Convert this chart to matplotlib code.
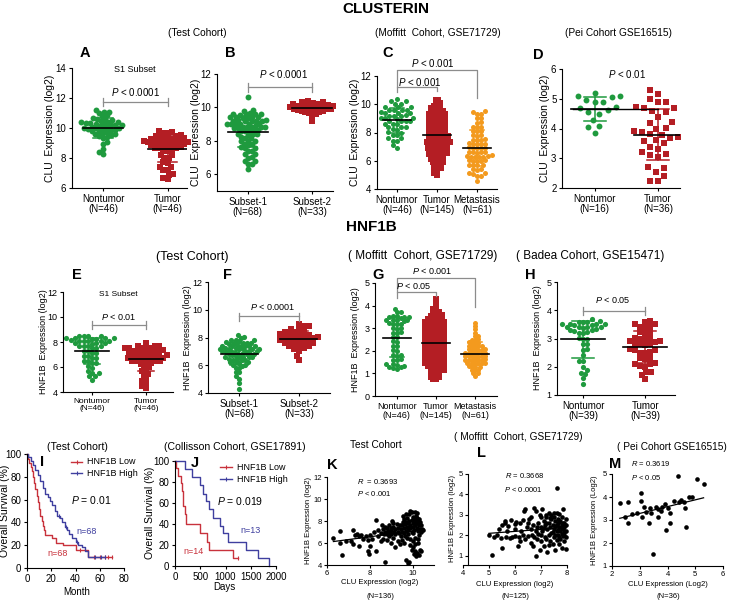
import numpy as np
import matplotlib
matplotlib.use('Agg')
import matplotlib.pyplot as plt
from matplotlib.lines import Line2D

plt.rcParams['font.family'] = 'Liberation Sans'
plt.rcParams['mathtext.fontset'] = 'custom'
plt.rcParams['mathtext.it'] = 'Liberation Sans:italic'
plt.rcParams['mathtext.rm'] = 'Liberation Sans'
plt.rcParams['axes.linewidth'] = 0.8

W, H = 729, 602
GREEN = '#1f9a3e'
RED = '#b41e24'
ORANGE = '#f39a1e'
KM_RED = '#c8323c'
KM_BLUE = '#3f3f9f'
GRAY = '#8c8c8c'

# ---------------- CLU dot plots ----------------
A_NONTUMOR = [11.2, 11.05, 11.0, 11.1, 10.85, 10.8, 10.6, 10.55, 10.6, 10.65,
              10.4, 10.35, 10.45, 10.4, 10.3, 10.4, 10.35, 10.2, 10.15, 10.25, 10.2, 10.1, 10.2,
              10.0, 9.95, 10.0, 10.05, 9.9, 10.0, 9.95, 9.8, 9.75, 9.85, 9.8,
              9.6, 9.55, 9.65, 9.6, 9.4, 9.35, 9.45, 9.05, 8.95, 8.6, 8.4, 8.3]
A_TUMOR = [9.8, 9.68, 9.72, 9.7, 9.5, 9.52, 9.48, 9.5, 9.3, 9.32, 9.28, 9.3, 9.3,
           9.1, 9.12, 9.08, 9.1, 9.1, 9.14, 9.06, 8.9, 8.92, 8.88, 8.9, 8.9,
           8.7, 8.72, 8.68, 8.7, 8.5, 8.52, 8.48, 8.2, 8.22, 8.0, 7.98, 7.7, 7.72,
           7.4, 7.42, 7.2, 7.18, 6.9, 6.92, 6.65, 6.62]
B_SUB1 = [10.6, 9.8, 9.82, 9.6, 9.62, 9.58, 9.6, 9.64, 9.56, 9.4, 9.42, 9.38, 9.4, 9.44, 9.36,
          9.2, 9.22, 9.18, 9.2, 9.24, 9.16, 9.2, 9.0, 9.02, 8.98, 9.0, 9.04, 8.96, 9.0,
          8.8, 8.82, 8.78, 8.8, 8.84, 8.76, 8.8, 8.6, 8.62, 8.58, 8.6, 8.64,
          8.4, 8.42, 8.38, 8.4, 8.2, 8.22, 8.18, 8.0, 8.02, 7.98, 7.8, 7.82, 7.78,
          7.6, 7.62, 7.58, 7.4, 7.42, 7.2, 7.22, 7.0, 7.02, 6.8, 6.82, 6.6, 6.62, 6.3]
B_SUB2 = [10.4, 10.3, 10.32, 10.28, 10.2, 10.22, 10.18, 10.2, 10.1, 10.12, 10.08, 10.1, 10.1,
          10.0, 10.02, 9.98, 10.0, 10.0, 9.9, 9.92, 9.88, 9.9, 9.9, 9.8, 9.82, 9.78, 9.8,
          9.7, 9.72, 9.68, 9.6, 9.5, 9.2]
C_NONTUMOR = [10.4, 10.2, 10.22, 10.0, 10.02, 9.8, 9.82, 9.78, 9.6, 9.62, 9.58, 9.6,
              9.4, 9.42, 9.38, 9.4, 9.2, 9.22, 9.18, 9.2, 9.0, 9.02, 8.98, 9.0,
              8.8, 8.82, 8.78, 8.8, 8.6, 8.62, 8.58, 8.4, 8.42, 8.38, 8.2, 8.22,
              8.0, 8.02, 7.8, 7.82, 7.6, 7.62, 7.4, 7.42, 7.1, 6.9]
C_TUMOR = [10.3, 10.28, 10.1, 10.12, 9.9, 9.92, 9.88, 9.7, 9.72, 9.68, 9.7,
           9.5, 9.52, 9.48, 9.5, 9.5,
           9.3, 9.32, 9.28, 9.3, 9.34, 9.26, 9.3, 9.1, 9.12, 9.08, 9.1, 9.14, 9.06, 9.1,
           8.9, 8.92, 8.88, 8.9, 8.94, 8.86, 8.9, 8.7, 8.72, 8.68, 8.7, 8.74, 8.66, 8.7,
           8.5, 8.52, 8.48, 8.5, 8.54, 8.46, 8.5, 8.3, 8.32, 8.28, 8.3, 8.34, 8.26, 8.3,
           8.1, 8.12, 8.08, 8.1, 8.14, 8.06, 8.1, 7.9, 7.92, 7.88, 7.9, 7.94, 7.86, 7.9,
           7.7, 7.72, 7.68, 7.7, 7.74, 7.66, 7.7, 7.7, 7.5, 7.52, 7.48, 7.5, 7.54, 7.46, 7.5, 7.5,
           7.3, 7.32, 7.28, 7.3, 7.34, 7.26, 7.3, 7.3, 7.1, 7.12, 7.08, 7.1, 7.14, 7.06, 7.1,
           6.9, 6.92, 6.88, 6.9, 6.94, 6.86, 6.9, 6.7, 6.72, 6.68, 6.7, 6.74, 6.66,
           6.5, 6.52, 6.48, 6.5, 6.54, 6.46, 6.3, 6.32, 6.28, 6.3, 6.34,
           6.1, 6.12, 6.08, 6.1, 5.9, 5.92, 5.88, 5.9, 5.7, 5.72, 5.68,
           5.5, 5.52, 5.48, 5.3, 5.32, 5.1, 5.0]
C_METASTASIS = [9.5, 9.48, 9.3, 9.32, 9.0, 9.02, 8.7, 8.72, 8.4, 8.42, 8.38, 8.1, 8.12, 8.08,
                7.8, 7.82, 7.78, 7.5, 7.52, 7.48, 7.5, 7.2, 7.22, 7.18, 7.2, 7.24,
                6.9, 6.92, 6.88, 6.9, 6.94, 6.6, 6.62, 6.58, 6.6, 6.64,
                6.3, 6.32, 6.28, 6.3, 6.34, 6.26, 6.4, 6.0, 6.02, 5.98, 6.0, 6.04,
                5.7, 5.72, 5.68, 5.7, 5.4, 5.42, 5.38, 5.1, 5.12, 5.08, 4.9, 4.92, 4.6]
D_NONTUMOR = [5.18, 5.1, 5.08, 5.05, 4.95, 4.9, 4.88, 4.72, 4.7, 4.62, 4.55, 4.5, 4.3, 4.1, 4.05, 3.85]
D_TUMOR = [5.28, 5.15, 5.0, 4.9, 4.88, 4.72, 4.7, 4.68, 4.58, 4.55, 4.4, 4.22, 4.18, 4.02, 4.0,
           3.9, 3.88, 3.82, 3.78, 3.7, 3.68, 3.6, 3.58, 3.5, 3.38, 3.32, 3.2, 3.15, 3.1, 3.05,
           2.72, 2.68, 2.55, 2.4, 2.25, 2.22]

# ---------------- HNF1B dot plots ----------------
E_NONTUMOR = [8.5, 8.52, 8.48, 8.5, 8.3, 8.32, 8.28, 8.3, 8.34, 8.26, 8.1, 8.12, 8.08, 8.1, 8.14, 8.06,
              7.9, 7.92, 7.88, 7.9, 7.7, 7.72, 7.68, 7.7, 7.5, 7.52, 7.3, 7.32, 7.1, 7.12,
              6.9, 6.92, 6.7, 6.72, 6.5, 6.52, 6.3, 6.32, 6.1, 5.9, 5.7, 5.5, 5.52, 5.25, 5.27, 5.0]
E_TUMOR = [7.9, 7.7, 7.72, 7.68, 7.5, 7.52, 7.48, 7.5, 7.54, 7.3, 7.32, 7.28, 7.3, 7.34,
           7.1, 7.12, 7.08, 7.1, 6.9, 6.92, 6.88, 6.9, 6.94, 6.7, 6.72, 6.68, 6.7, 6.74,
           6.5, 6.52, 6.48, 6.5, 6.3, 6.32, 6.28, 6.0, 6.02, 5.7, 5.72, 5.4, 5.42, 5.1, 4.9, 4.7, 4.5, 4.3]
F_SUB1 = [8.2, 8.0, 8.02, 7.8, 7.82, 7.78, 7.8, 7.6, 7.62, 7.58, 7.6, 7.64, 7.56,
          7.4, 7.42, 7.38, 7.4, 7.44, 7.36, 7.4, 7.2, 7.22, 7.18, 7.2, 7.24, 7.16, 7.2, 7.2,
          7.0, 7.02, 6.98, 7.0, 7.04, 6.96, 7.0, 6.8, 6.82, 6.78, 6.8, 6.84, 6.76, 6.8,
          6.6, 6.62, 6.58, 6.6, 6.64, 6.56, 6.4, 6.42, 6.38, 6.4, 6.44,
          6.2, 6.22, 6.18, 6.2, 6.0, 6.02, 5.98, 5.8, 5.82, 5.5, 5.52, 5.2, 5.0, 4.7, 4.3]
F_SUB2 = [9.0, 8.8, 8.82, 8.6, 8.62, 8.4, 8.42, 8.38, 8.2, 8.22, 8.18, 8.2,
          8.0, 8.02, 7.98, 8.0, 8.04, 7.8, 7.82, 7.78, 7.8, 7.6, 7.62, 7.58, 7.6,
          7.4, 7.42, 7.38, 7.2, 7.22, 7.0, 6.7, 6.4]
G_NONTUMOR = [3.85, 3.7, 3.72, 3.5, 3.52, 3.48, 3.5, 3.54, 3.46, 3.35, 3.37, 3.33, 3.35, 3.36,
              3.2, 3.22, 3.18, 3.2, 3.0, 3.02, 2.98, 2.8, 2.82, 2.78, 2.6, 2.62, 2.4, 2.42,
              2.2, 2.22, 2.0, 2.02, 1.8, 1.82, 1.78, 1.6, 1.62, 1.58, 1.4, 1.42, 1.38,
              1.3, 1.32, 1.28, 1.2, 1.22]
G_TUMOR = [4.3, 4.15, 4.0, 3.85, 3.87, 3.7, 3.72, 3.68, 3.55, 3.57, 3.53, 3.55, 3.56,
           3.4, 3.42, 3.38, 3.4, 3.41, 3.39,
           3.25, 3.27, 3.23, 3.25, 3.26, 3.24, 3.25, 3.25, 3.1, 3.12, 3.08, 3.1, 3.11, 3.09, 3.1, 3.1,
           2.95, 2.97, 2.93, 2.95, 2.96, 2.94, 2.95, 2.95, 2.8, 2.82, 2.78, 2.8, 2.81, 2.79, 2.8, 2.8,
           2.65, 2.67, 2.63, 2.65, 2.66, 2.64, 2.65, 2.65, 2.5, 2.52, 2.48, 2.5, 2.51, 2.49, 2.5, 2.5,
           2.35, 2.37, 2.33, 2.35, 2.36, 2.34, 2.35, 2.35, 2.2, 2.22, 2.18, 2.2, 2.21, 2.19, 2.2, 2.2,
           2.05, 2.07, 2.03, 2.05, 2.06, 2.04, 2.05, 2.05, 1.9, 1.92, 1.88, 1.9, 1.91, 1.89, 1.9, 1.9,
           1.75, 1.77, 1.73, 1.75, 1.76, 1.74, 1.75, 1.75, 1.6, 1.62, 1.58, 1.6, 1.61, 1.59, 1.6, 1.6,
           1.45, 1.47, 1.43, 1.45, 1.46, 1.44, 1.45, 1.45, 1.3, 1.32, 1.28, 1.3, 1.31, 1.29, 1.3,
           1.15, 1.17, 1.13, 1.15, 1.16, 1.14, 1.0, 1.02, 0.98, 1.0, 0.85, 0.87, 0.83, 0.75, 0.76]
G_METASTASIS = [3.25, 3.1, 2.95, 2.8, 2.65, 2.67, 2.5, 2.52, 2.48, 2.35, 2.37, 2.33, 2.35,
                2.2, 2.22, 2.18, 2.2, 2.21, 2.05, 2.07, 2.03, 2.05, 2.06, 2.04,
                1.9, 1.92, 1.88, 1.9, 1.91, 1.89, 1.9, 1.75, 1.77, 1.73, 1.75, 1.76, 1.74, 1.75,
                1.6, 1.62, 1.58, 1.6, 1.61, 1.59, 1.6, 1.45, 1.47, 1.43, 1.45, 1.46, 1.44,
                1.3, 1.32, 1.28, 1.3, 1.15, 1.17, 1.13, 1.0, 1.02, 0.9]
H_NONTUMOR = [3.7, 3.6, 3.62, 3.58, 3.6, 3.5, 3.52, 3.48, 3.5, 3.51, 3.49, 3.4, 3.42, 3.38, 3.4, 3.41,
              3.3, 3.32, 3.28, 3.3, 3.2, 3.22, 3.18, 3.0, 3.02, 2.98, 2.8, 2.82, 2.6, 2.62,
              2.4, 2.2, 2.22, 2.0, 1.9, 1.75, 1.77, 1.6, 1.4]
H_TUMOR = [3.6, 3.62, 3.5, 3.52, 3.4, 3.42, 3.38, 3.2, 3.22, 3.18, 3.0, 3.02, 2.98, 3.0,
           2.9, 2.92, 2.88, 2.8, 2.82, 2.78, 2.8, 2.6, 2.62, 2.58, 2.5, 2.52, 2.48,
           2.3, 2.32, 2.28, 2.1, 2.12, 2.08, 2.0, 2.02, 1.8, 1.82, 1.7, 1.55]

# ---------------- Kaplan-Meier ----------------
I_LOW_T = [0, 1, 2, 3, 4, 5, 6, 7, 8, 9, 10, 11, 12, 13, 14, 15, 21, 24, 30, 40, 50, 70]
I_LOW_S = [100, 96, 92, 89, 85, 80, 75, 69, 63, 58, 52, 46, 41, 37, 33, 29, 26, 22, 20, 16, 10, 10]
I_LOW_CENS = [44, 55, 60, 64, 67, 70]
I_HIGH_T = [0, 1, 3, 5, 7, 9, 11, 13, 15, 17, 19, 21, 23, 25, 27, 29, 31, 33, 35, 37, 40, 42, 45, 48, 50, 64]
I_HIGH_S = [100, 97, 94, 90, 86, 82, 76, 70, 65, 62, 59, 55, 50, 46, 44, 40, 36, 33, 30, 26, 23, 20, 18, 15, 10, 10]
I_HIGH_CENS = [26, 32, 41, 56, 61, 64]
J_LOW_T = [0, 20, 60, 110, 130, 165, 190, 210, 495, 640, 680, 1140, 1240]
J_LOW_S = [100, 93, 86, 79, 71, 57, 50, 40, 31, 23, 15, 8, 8]
J_HIGH_T = [0, 200, 330, 500, 560, 610, 680, 750, 890, 960, 1050, 1400, 1640, 1870]
J_HIGH_S = [100, 92, 85, 77, 69, 62, 54, 46, 38, 31, 23, 15, 8, 0]

# ---------------- correlations (CLU, HNF1B) ----------------
K_PAIRS = [
    (6.3, 6.5), (6.6, 7.1), (6.6, 6.0), (6.7, 4.9), (6.9, 6.2), (7.1, 6.2), (7.2, 7.2), (7.2, 5.9),
    (7.3, 6.7), (7.4, 6.8), (7.5, 5.7), (7.5, 6.6), (7.6, 6.7), (7.7, 6.4), (7.8, 6.6), (7.9, 6.3),
    (7.9, 5.3), (7.95, 5.0), (8.0, 5.7), (8.0, 6.7), (8.1, 6.4),
    (8.2, 7.0), (8.3, 8.1), (8.3, 5.3), (8.4, 6.6), (8.4, 7.2), (8.5, 6.9), (8.5, 6.2), (8.6, 7.3),
    (8.6, 6.4), (8.65, 6.8), (8.7, 7.0), (8.7, 7.5), (8.7, 4.3), (8.8, 7.4), (8.8, 6.3), (8.8, 6.8),
    (8.85, 7.1), (8.9, 6.6), (8.9, 7.6), (9.0, 7.2), (9.0, 6.8), (9.0, 6.0), (9.0, 7.4), (9.05, 8.0),
    (9.1, 7.5), (9.1, 6.5), (9.15, 7.0), (9.2, 6.8), (9.2, 7.3), (9.2, 5.6), (9.25, 7.7), (9.3, 7.0),
    (9.3, 6.2), (9.3, 7.4), (9.35, 6.9), (9.4, 7.6), (9.4, 5.9),
    (9.45, 7.3), (9.5, 7.6), (9.5, 7.0), (9.55, 7.9), (9.6, 7.4), (9.6, 8.2), (9.65, 7.7), (9.7, 7.1),
    (9.7, 7.9), (9.75, 7.5), (9.75, 8.3), (9.8, 7.8), (9.8, 7.2), (9.85, 8.0), (9.85, 8.6), (9.9, 7.6),
    (9.9, 7.4), (9.9, 8.9), (9.95, 8.1), (9.95, 7.0), (10.0, 7.8), (10.0, 8.4), (10.0, 7.5), (10.05, 8.2),
    (10.05, 7.2), (10.1, 8.8), (10.1, 7.9), (10.1, 7.6), (10.15, 8.0), (10.15, 8.5), (10.2, 7.4), (10.2, 7.8),
    (10.2, 8.3), (10.25, 7.1), (10.25, 8.0), (10.3, 7.6), (10.3, 8.2), (10.35, 7.3), (10.35, 7.9), (10.4, 7.0),
    (10.4, 7.6), (10.45, 7.3), (10.5, 7.2), (9.6, 6.9), (9.8, 6.8), (10.0, 6.9), (9.55, 8.5), (9.7, 8.6),
    (9.95, 8.8), (10.2, 8.7),
    (9.5, 6.3), (9.6, 6.0), (9.7, 4.5), (9.8, 4.2), (9.85, 4.3), (9.9, 5.8), (9.95, 5.4), (10.0, 5.6),
    (10.0, 6.2), (10.05, 5.0), (10.1, 5.9), (10.1, 5.3), (10.15, 4.8), (10.2, 5.1), (10.25, 6.0), (10.3, 4.9),
    (10.35, 5.4), (10.4, 5.3), (10.1, 6.5), (9.9, 6.4), (10.25, 6.4), (9.75, 6.5),
    (8.95, 7.0), (9.1, 7.8), (9.45, 6.6), (9.65, 6.6), (8.55, 7.6), (10.3, 6.7)]
L_PAIRS = [
    (5.0, 2.0), (5.1, 1.05), (5.3, 2.0), (5.4, 2.3), (5.45, 1.85), (5.5, 1.4), (5.5, 2.5), (5.6, 2.7),
    (5.6, 2.6), (5.65, 1.9), (5.7, 2.2), (5.8, 1.85), (5.85, 2.75), (5.9, 1.9), (6.0, 2.3), (6.0, 1.95),
    (6.05, 2.65), (6.1, 1.5), (6.15, 1.9), (6.2, 2.6), (6.25, 2.2), (6.3, 2.0), (6.3, 2.75), (6.35, 3.2),
    (6.4, 3.3), (6.4, 1.8), (6.45, 2.4), (6.5, 1.95), (6.55, 2.8), (6.6, 1.65), (6.6, 2.3), (6.65, 2.0),
    (6.7, 1.5), (6.7, 2.5), (6.75, 3.35), (6.8, 1.0), (6.8, 2.2), (6.8, 3.2), (6.85, 1.8), (6.9, 2.6),
    (6.9, 2.05), (6.95, 1.3), (6.95, 3.0), (7.0, 2.4), (7.0, 1.7), (7.0, 2.9),
    (7.05, 3.3), (7.05, 2.2), (7.1, 1.5), (7.1, 2.7), (7.15, 1.9), (7.15, 2.5), (7.2, 1.8), (7.2, 2.9),
    (7.2, 3.0), (7.25, 2.3), (7.25, 1.2), (7.3, 2.6), (7.3, 2.0), (7.3, 3.1), (7.35, 1.7), (7.35, 2.4),
    (7.4, 2.8), (7.4, 2.1), (7.4, 3.0), (7.45, 1.6), (7.45, 2.5), (7.5, 2.9), (7.5, 1.9), (7.5, 3.1),
    (7.5, 2.3), (7.55, 2.7), (7.55, 1.3), (7.55, 2.0), (7.6, 4.3), (7.6, 2.5), (7.6, 3.1), (7.6, 2.2),
    (7.6, 1.75), (7.65, 2.8), (7.65, 2.0), (7.65, 2.6), (7.7, 2.4), (7.7, 1.9), (7.7, 3.05), (7.7, 1.6),
    (7.75, 2.2), (7.75, 2.7), (7.75, 1.8), (7.8, 2.5), (7.8, 2.05), (7.8, 1.4), (7.8, 2.9), (7.85, 3.3),
    (7.85, 2.3), (7.85, 1.95), (7.9, 2.6), (7.9, 2.0), (7.9, 1.7), (7.9, 2.4), (7.95, 1.35), (7.95, 2.2),
    (7.95, 2.8), (7.95, 1.9),
    (5.2, 1.9), (5.75, 2.45), (6.0, 2.55), (6.2, 1.7), (6.5, 2.6), (6.6, 2.9), (6.75, 1.9), (6.85, 2.4),
    (7.0, 2.0), (7.1, 2.35), (7.2, 2.6), (7.3, 1.55), (7.35, 2.85), (7.45, 2.15), (7.55, 2.45), (7.65, 2.25),
    (7.7, 2.65), (7.8, 2.35), (7.85, 2.6), (7.9, 2.15), (7.95, 2.5)]
M_PAIRS = [
    (2.28, 3.73), (2.46, 3.15), (2.56, 3.8), (2.58, 2.85), (2.72, 3.26), (3.06, 4.17), (3.04, 3.83),
    (3.07, 3.12), (3.14, 3.58), (3.24, 3.36), (3.34, 2.85), (3.36, 3.51), (3.42, 3.29), (3.46, 1.54),
    (3.6, 3.58), (3.64, 3.48), (3.65, 3.15), (3.78, 3.39), (3.9, 3.7), (3.95, 2.56), (4.0, 3.51),
    (4.08, 3.32), (4.1, 2.88), (4.25, 3.83), (4.38, 4.9), (4.42, 3.77), (4.58, 3.8), (4.64, 3.51),
    (4.65, 2.68), (4.76, 4.02), (4.88, 3.98), (5.08, 4.78), (5.3, 4.56), (2.9, 3.3), (3.8, 3.55), (4.5, 3.85)]

fig = plt.figure(figsize=(W / 100, H / 100), dpi=100)


def px_axes(l, t, r, b):
    ax = fig.add_axes([l / W, 1 - b / H, (r - l) / W, (b - t) / H])
    ax.spines['top'].set_visible(False)
    ax.spines['right'].set_visible(False)
    ax.patch.set_alpha(0)
    return ax


def ftext(x, y, s, size=7, ha='center', va='center', **kw):
    fig.text(x / W, 1 - y / H, s, fontsize=size, ha=ha, va=va, **kw)


def beeswarm_x(vals, center, ppx, ppy, d):
    # lay points out sideways so that marker centres stay d pixels apart
    v = np.asarray(vals, float)
    ypx = v * ppy
    xs = np.zeros(len(v))
    px_list, py_list = [], []
    for n, i in enumerate(np.argsort(v, kind='stable')):
        sgn = 1 if n % 2 == 0 else -1
        cands = [0.0]
        for k in range(1, 300):
            cands += [sgn * k * d / 4, -sgn * k * d / 4]
        pxa, pya = np.array(px_list), np.array(py_list)
        for off in cands:
            if len(pxa) == 0 or np.all((pxa - off) ** 2 + (pya - ypx[i]) ** 2 >= d * d - 1e-9):
                break
        px_list.append(off)
        py_list.append(ypx[i])
        xs[i] = center + off / ppx
    return xs


def dotplot(ax, groups, colors, markers, dists, size, meanw=0.62, capw=0.3):
    pos = ax.get_position()
    x0, x1 = ax.get_xlim()
    y0, y1 = ax.get_ylim()
    ppx = pos.width * W / (x1 - x0)
    ppy = pos.height * H / (y1 - y0)
    for i, (vals, c, m, d) in enumerate(zip(groups, colors, markers, dists)):
        v = np.asarray(vals, float)
        ax.scatter(beeswarm_x(v, i, ppx, ppy, d), v, s=size, c=c, marker=m, linewidths=0,
                   zorder=2, clip_on=False)
        mu, sd = v.mean(), v.std(ddof=1)
        ax.plot([i, i], [mu - sd, mu + sd], color=c, lw=1.1, zorder=3)
        for yy in (mu - sd, mu + sd):
            ax.plot([i - capw / 2, i + capw / 2], [yy, yy], color=c, lw=1.1, zorder=3)
        ax.plot([i - meanw / 2, i + meanw / 2], [mu, mu], color='k', lw=1.2, zorder=4)


def style(ax, xlim, ylim, yticks, xlabels, fs, yfs):
    ax.set_xlim(xlim)
    ax.set_ylim(ylim)
    ax.set_yticks(yticks)
    ax.set_xticks(range(len(xlabels)))
    ax.set_xticklabels(xlabels, fontsize=fs, linespacing=1.1)
    ax.tick_params(axis='y', labelsize=yfs)
    ax.tick_params(length=2.5, width=0.8, pad=1.5)


def bracket(ax, x0, x1, y, l0, l1, r0, r1):
    kw = dict(color=GRAY, lw=0.9, clip_on=False, zorder=5)
    ax.plot([x0, x1], [y, y], **kw)
    ax.plot([x0, x0], [l0, l1], **kw)
    ax.plot([x1, x1], [r0, r1], **kw)


def ptext(ax, x, y, s, size=7):
    ax.text(x, y, s, fontsize=size, ha='center', va='center', clip_on=False)


# ======== top row: CLUSTERIN ========
ftext(386, 9, 'CLUSTERIN', 11, fontweight='bold')
ftext(197, 33, '(Test Cohort)', 7.3)
ftext(438, 33, '(Moffitt  Cohort, GSE71729)', 7.3)
ftext(618, 33, '(Pei Cohort GSE16515)', 7.3)
for letter, x, y in [('A', 85, 53), ('B', 230, 53), ('C', 388, 53), ('D', 538, 55)]:
    ftext(x, y, letter, 10.5, fontweight='bold')
ylab_clu = 'CLU  Expression (log2)'

axA = px_axes(72, 68, 187, 188)
style(axA, (-0.48, 1.3), (6, 14), [6, 8, 10, 12, 14], ['Nontumor\n(N=46)', 'Tumor\n(N=46)'], 7, 7)
dotplot(axA, [A_NONTUMOR, A_TUMOR], [GREEN, RED], ['o', 's'], [4.1, 4.3], 18)
ftext(135, 70, 'S1 Subset', 6.5)
bracket(axA, 0, 1, 11.73, 11.45, 12.0, 11.45, 12.0)
ptext(axA, 0.5, 12.4, r'$P$ < 0.0001')
ftext(50, 128, ylab_clu, 7.5, rotation=90)

axB = px_axes(217, 74, 333, 191)
style(axB, (-0.48, 1.33), (5, 12), [6, 8, 10, 12], ['Subset-1\n(N=68)', 'Subset-2\n(N=33)'], 7, 7)
dotplot(axB, [B_SUB1, B_SUB2], [GREEN, RED], ['o', 's'], [3.9, 3.75], 18)
bracket(axB, 0, 1, 11.22, 10.95, 11.45, 10.95, 11.45)
ptext(axB, 0.55, 12.0, r'$P$ < 0.0001')
ftext(196, 132, ylab_clu, 7.5, rotation=90)

axC = px_axes(377, 76, 497, 189)
style(axC, (-0.5, 2.5), (4, 12), [4, 6, 8, 10, 12],
      ['Nontumor\n(N=46)', 'Tumor\n(N=145)', 'Metastasis\n(N=61)'], 7, 7)
dotplot(axC, [C_NONTUMOR, C_TUMOR, C_METASTASIS], [GREEN, RED, ORANGE], ['o', 's', 'o'],
        [4.3, 2.8, 4.2], 13, meanw=0.7, capw=0.35)
axC.plot([0, 0, 2, 2], [11.22, 12.43, 12.43, 10.44], color=GRAY, lw=0.9, clip_on=False)
axC.plot([0, 0, 1, 1], [10.9, 11.22, 11.22, 10.95], color=GRAY, lw=0.9, clip_on=False)
ptext(axC, 0.9, 12.92, r'$P$ < 0.001')
ptext(axC, 0.58, 11.6, r'$P$ < 0.001')
ftext(355, 132, ylab_clu, 7.5, rotation=90)

axD = px_axes(562, 69, 680, 188)
style(axD, (-0.52, 1.35), (2, 6), [2, 3, 4, 5, 6], ['Nontumor\n(N=16)', 'Tumor\n(N=36)'], 7, 7)
dotplot(axD, [D_NONTUMOR, D_TUMOR], [GREEN, RED], ['o', 's'], [8.5, 8.0], 18,
        meanw=0.75, capw=0.35)
axD.plot([-0.35, 1.0], [np.mean(D_NONTUMOR)] * 2, color='k', lw=1.0, zorder=4)
ptext(axD, 0.51, 5.83, r'$P$ < 0.01')
ftext(545, 128, ylab_clu, 7.5, rotation=90)

# ======== middle row: HNF1B ========
ftext(371, 227, 'HNF1B', 11, fontweight='bold')
ftext(192, 257, '(Test Cohort)', 9)
ftext(423, 256, '( Moffitt  Cohort, GSE71729)', 8.5)
ftext(590, 256, '( Badea Cohort, GSE15471)', 8.5)
for letter, x, y in [('E', 77, 275), ('F', 227, 275), ('G', 378, 275), ('H', 530, 275)]:
    ftext(x, y, letter, 10.5, fontweight='bold')
ylab_hnf = 'HNF1B  Expression (log2)'

axE = px_axes(63, 292, 173, 392)
style(axE, (-0.54, 1.5), (4, 12), [4, 6, 8, 10, 12], ['Nontumor\n(N=46)', 'Tumor\n(N=46)'], 6, 6.5)
dotplot(axE, [E_NONTUMOR, E_TUMOR], [GREEN, RED], ['o', 's'], [4.3, 4.25], 14)
ftext(118, 295, 'S1 Subset', 6)
bracket(axE, 0, 1, 9.36, 9.05, 9.67, 9.05, 9.67)
ptext(axE, 0.5, 10.0, r'$P$ < 0.01', 6.5)
ftext(43, 342, ylab_hnf, 6.5, rotation=90)

axF = px_axes(208, 282, 330, 393)
style(axF, (-0.52, 1.52), (4, 12), [4, 6, 8, 10, 12], ['Subset-1\n(N=68)', 'Subset-2\n(N=33)'], 7, 6.5)
dotplot(axF, [F_SUB1, F_SUB2], [GREEN, RED], ['o', 's'], [3.5, 4.8], 14)
bracket(axF, 0, 1, 9.55, 9.2, 9.8, 9.2, 9.8)
ptext(axF, 0.57, 10.2, r'$P$ < 0.0001', 6.5)
ftext(188, 338, ylab_hnf, 6.5, rotation=90)

axG = px_axes(375, 283, 497, 396)
style(axG, (-0.56, 2.56), (0, 5), [0, 1, 2, 3, 4, 5],
      ['Nontumor\n(N=46)', 'Tumor\n(N=145)', 'Metastasis\n(N=61)'], 6.5, 6.5)
dotplot(axG, [G_NONTUMOR, G_TUMOR, G_METASTASIS], [GREEN, RED, ORANGE], ['o', 's', 'o'],
        [3.8, 2.75, 3.3], 13, meanw=0.7, capw=0.35)
axG.plot([0, 0, 2, 2], [4.6, 5.22, 5.22, 3.94], color=GRAY, lw=0.9, clip_on=False)
axG.plot([0, 0, 1, 1], [4.35, 4.6, 4.6, 4.42], color=GRAY, lw=0.9, clip_on=False)
ptext(axG, 0.9, 5.53, r'$P$ < 0.001', 6.5)
ptext(axG, 0.42, 4.87, r'$P$ < 0.05', 6.5)
ftext(355, 340, ylab_hnf, 6.5, rotation=90)

axH = px_axes(557, 282, 675, 395)
style(axH, (-0.42, 1.48), (1, 5), [1, 2, 3, 4, 5], ['Nontumor\n(N=39)', 'Tumor\n(N=39)'], 7, 6.5)
dotplot(axH, [H_NONTUMOR, H_TUMOR], [GREEN, RED], ['o', 's'], [4.4, 4.9], 14,
        meanw=0.7, capw=0.35)
bracket(axH, 0, 1, 3.97, 3.82, 4.12, 3.82, 4.12)
ptext(axH, 0.48, 4.36, r'$P$ < 0.05', 6.5)
ftext(537, 338, ylab_hnf, 6.5, rotation=90)

# ======== bottom row: survival ========


def km(ax, t, s, color, cens):
    ax.step(t, s, where='post', color=color, lw=1.0, clip_on=False)
    t = np.asarray(t)
    s = np.asarray(s)
    cy = [s[np.searchsorted(t, c, side='right') - 1] for c in cens]
    ax.plot(cens, cy, ls='none', marker='|', ms=3, mew=0.8, color=color, clip_on=False)


def km_legend(x0, x1, xt, ys):
    for (label, color), y in zip([('HNF1B Low', KM_RED), ('HNF1B High', KM_BLUE)], ys):
        fig.add_artist(Line2D([x0 / W, x1 / W], [1 - y / H] * 2, color=color, lw=1.0))
        fig.add_artist(Line2D([(x0 + x1) / 2 / W], [1 - y / H], color=color, marker='|',
                              ms=3, mew=0.8))
        ftext(xt, y, label, 6.5, ha='left')


def km_style(ax, xlim, xticks):
    ax.set_xlim(xlim)
    ax.set_ylim(0, 100)
    ax.set_xticks(xticks)
    ax.set_yticks([0, 20, 40, 60, 80, 100])
    ax.tick_params(length=2.5, width=0.8, pad=1.5, labelsize=7)


axI = px_axes(27, 454, 124, 568)
km(axI, I_LOW_T, I_LOW_S, KM_RED, I_LOW_CENS)
km(axI, I_HIGH_T, I_HIGH_S, KM_BLUE, I_HIGH_CENS)
km_style(axI, (0, 80), [0, 20, 40, 60, 80])
ftext(77, 447, '(Test Cohort)', 7.6)
ftext(42, 462, 'I', 10.5, fontweight='bold')
km_legend(71, 82, 87, [462, 473])
axI.text(36, 60, r'$P$ = 0.01', fontsize=7.5, ha='left', va='center')
axI.text(41, 32, 'n=68', fontsize=6.5, color=KM_BLUE, ha='left', va='center')
axI.text(16.5, 13, 'n=68', fontsize=6.5, color=KM_RED, ha='left', va='center')
ftext(5, 511, 'Overall Survival (%)', 7.5, rotation=90)
ftext(77, 592, 'Month', 7)

axJ = px_axes(175, 461, 276, 566)
km(axJ, J_LOW_T, J_LOW_S, KM_RED, [1240])
km(axJ, J_HIGH_T, J_HIGH_S, KM_BLUE, [])
km_style(axJ, (0, 2000), [0, 500, 1000, 1500, 2000])
ftext(235, 447, '(Collisson Cohort, GSE17891)', 7.6)
ftext(195, 463, 'J', 10.5, fontweight='bold')
km_legend(220, 232, 237, [467, 479])
axJ.text(830, 62, r'$P$ = 0.019', fontsize=7.5, ha='left', va='center')
axJ.text(1290, 34, 'n=13', fontsize=6.5, color=KM_BLUE, ha='left', va='center')
axJ.text(160, 14, 'n=14', fontsize=6.5, color=KM_RED, ha='left', va='center')
ftext(150, 513, 'Overall Survival (%)', 7.5, rotation=90)
ftext(224, 587, 'Days', 7)

# ======== bottom row: correlations ========


def corr(ax, pairs, xlim, ylim, xticks, yticks):
    p = np.asarray(pairs, float)
    ax.scatter(p[:, 0], p[:, 1], s=11, c='k', linewidths=0, clip_on=False, zorder=2)
    k, b = np.polyfit(p[:, 0], p[:, 1], 1)
    xs = np.array([p[:, 0].min(), p[:, 0].max()])
    ax.plot(xs, k * xs + b, color='k', lw=0.9, zorder=3)
    ax.set_xlim(xlim)
    ax.set_ylim(ylim)
    ax.set_xticks(xticks)
    ax.set_yticks(yticks)
    ax.tick_params(length=2, width=0.8, pad=1.5, labelsize=5.5)


axK = px_axes(327, 477, 434, 565)
corr(axK, K_PAIRS, (6, 11), (4, 12), [6, 8, 10], [4, 6, 8, 10, 12])
ftext(376, 445, 'Test Cohort', 7.3)
ftext(332, 465, 'K', 10.5, fontweight='bold')
ftext(357, 482, r'$R$  = 0.3693', 5.5, ha='left')
ftext(357, 493, r'$P$ < 0.001', 5.5, ha='left')
ftext(308, 521, 'HNF1B Expression (log2)', 5.5, rotation=90)
ftext(380, 583, 'CLU Expression (log2)', 5.5)
ftext(380, 596, '(N=136)', 5.5)

axL = px_axes(463, 474, 567, 565)
corr(axL, L_PAIRS, (4, 8), (0.55, 5), [4, 5, 6, 7, 8], [1, 2, 3, 4, 5])
axL.spines['left'].set_position(('data', 4.19))
ftext(518, 437, '( Moffitt  Cohort, GSE71729)', 7.3)
ftext(482, 453, 'L', 10.5, fontweight='bold')
ftext(505, 476, r'$R$ = 0.3668', 5.5, ha='left')
ftext(504, 490, r'$P$ < 0.0001', 5.5, ha='left')
ftext(452, 519, 'HNF1B Expression (log2)', 5.5, rotation=90)
ftext(515, 584, 'CLU Expression (log2)', 5.5)
ftext(515, 597, '(N=125)', 5.5)

axM = px_axes(612, 474, 723, 566)
corr(axM, M_PAIRS, (2, 6), (1, 5), [2, 3, 4, 5, 6], [1, 2, 3, 4, 5])
ftext(672, 447, '( Pei Cohort GSE16515)', 7.3)
ftext(615, 464, 'M', 10.5, fontweight='bold')
ftext(631, 464, r'$R$ = 0.3619', 5.5, ha='left')
ftext(631, 477, r'$P$ < 0.05', 5.5, ha='left')
ftext(595, 520, 'HNF1B Expression (Log2)', 5.5, rotation=90)
ftext(668, 584, 'CLU Expression (Log2)', 5.5)
ftext(668, 597, '(N=36)', 5.5)

fig.savefig('out.png', dpi=100)
